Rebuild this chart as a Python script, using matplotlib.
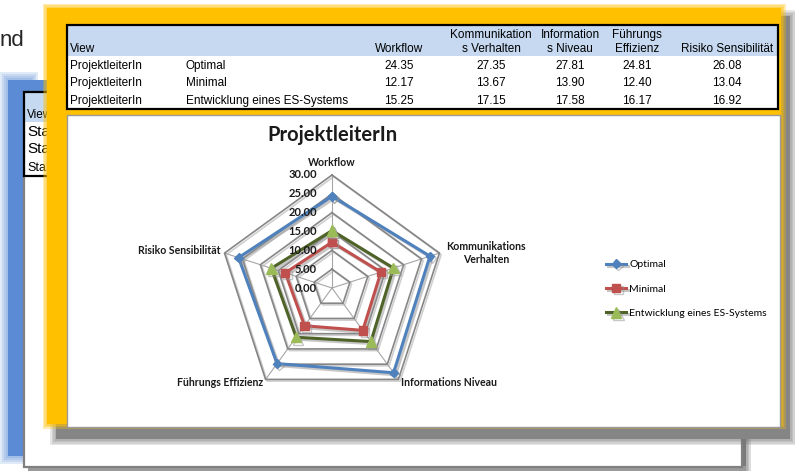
import numpy as np
import matplotlib
matplotlib.use("Agg")
import matplotlib.pyplot as plt
from matplotlib.patches import Rectangle
from matplotlib import patheffects as pe

# data
categories = ["Workflow", "Kommunikations\nVerhalten", "Informations Niveau",
              "Führungs Effizienz", "Risiko Sensibilität"]
table_headers = ["Workflow", "Kommunikation\ns Verhalten", "Information\ns Niveau",
                 "Führungs\nEffizienz", "Risiko Sensibilität"]
series_names = ["Optimal", "Minimal", "Entwicklung eines ES-Systems"]
optimal = [24.35, 27.35, 27.81, 24.81, 26.08]
minimal = [12.17, 13.67, 13.90, 12.40, 13.04]
entwicklung = [15.25, 17.15, 17.58, 16.17, 16.92]
levels = [0, 5, 10, 15, 20, 25, 30]

W, H = 795, 471
fig = plt.figure(figsize=(W / 100, H / 100), dpi=100)
fig.patch.set_facecolor("white")

# background "screenshot" layer in pixel coordinates
bg = fig.add_axes([0, 0, 1, 1])
bg.set_xlim(0, W)
bg.set_ylim(H, 0)
bg.axis("off")


def rect(x0, y0, x1, y1, **kw):
    kw.setdefault("zorder", 1)
    bg.add_patch(Rectangle((x0, y0), x1 - x0, y1 - y0, **kw))


def soft(x0, y0, x1, y1, color, n=4, step=1.5, alpha=0.18):
    for i in range(n, 0, -1):
        d = i * step
        rect(x0 - d, y0 - d, x1 + d, y1 + d, color=color, alpha=alpha, lw=0)


arial = ["Liberation Sans", "DejaVu Sans"]
calibri = ["Lato", "DejaVu Sans"]

bg.text(0, 41, "nd", fontsize=16, color="#262626", va="center", ha="left",
        family=arial, zorder=1)

# back slide
soft(8, 80, 30, 456, "#5b8bd4", n=4, step=2)
rect(8, 80, 30, 456, color="#5b8bd4", lw=0)
rect(8, 80, 60, 92, color="#5b8bd4", lw=0)
soft(742, 96, 746, 469, "#777777", n=3, step=1.5, alpha=0.25)
rect(741, 96, 746, 469, color="#7a7a7a", lw=0)
rect(28, 466, 746, 471, color="#9a9a9a", lw=0)
rect(24, 92, 742, 467, fc="white", ec="#808080", lw=1.6)
rect(25, 93, 200, 122, color="#c5d9f1", lw=0)
rect(24, 92, 200, 176, fill=False, ec="black", lw=1.6)
bg.text(27, 115, "View", fontsize=8.5, va="center", family=arial, zorder=1)
for yy, fs in [(132, 11), (149, 11), (168, 9)]:
    bg.text(27, yy, "Stakeholder", fontsize=fs, va="center", family=arial, zorder=1)
bg.text(140, 426, "Führungs Effizienz", fontsize=7.5, color="#c4c4c4",
        fontweight="bold", va="center", family=calibri, zorder=1)
bg.text(350, 426, "Informations Niveau", fontsize=7.5, color="#c4c4c4",
        fontweight="bold", va="center", family=calibri, zorder=1)

# front slide
soft(56, 16, 790, 439, "#777777", n=4, step=1.5, alpha=0.18)
rect(56, 16, 790, 439, color="#858585", lw=0)
soft(47, 8, 781, 424, "#ffc000", n=3, step=1.5, alpha=0.3)
rect(47, 8, 781, 424, color="#ffc000", lw=0)
rect(67, 115, 780, 427, fc="white", ec="#9a9a9a", lw=1)
rect(67, 25, 778, 56, color="#c6d9f1", lw=0)
rect(67, 56, 778, 109, color="white", lw=0)
rect(67, 25, 778, 109, fill=False, ec="black", lw=1.6)

# table text
col_x = [399, 491, 570, 637, 727]
row_y = [66, 83, 101]
fs_tab = 8.5
bg.text(70, 49, "View", fontsize=fs_tab, va="center", family=arial, zorder=3)
for x, h in zip(col_x, table_headers):
    bg.text(x, 55, h, fontsize=fs_tab, ha="center", va="bottom", family=arial,
            linespacing=1.2, zorder=3)
for y, name, vals in zip(row_y, series_names, [optimal, minimal, entwicklung]):
    bg.text(70, y, "ProjektleiterIn", fontsize=fs_tab, va="center", family=arial, zorder=3)
    bg.text(186, y, name, fontsize=fs_tab, va="center", family=arial, zorder=3)
    for x, v in zip(col_x, vals):
        bg.text(x, y, f"{v:.2f}", fontsize=fs_tab, ha="center", va="center",
                family=arial, zorder=3)

# radar chart
cx, cy, R = 332, 288, 113
ax = fig.add_axes([(cx - R) / W, (H - cy - R) / H, 2 * R / W, 2 * R / H],
                  projection="polar")
ax.set_theta_offset(np.pi / 2)
ax.set_theta_direction(-1)
ax.set_ylim(0, 30)
ax.axis("off")

theta = np.linspace(0, 2 * np.pi, len(categories), endpoint=False)
closed = np.append(theta, theta[0])

grid_fx = [pe.SimpleLineShadow(offset=(1.2, -1.2), shadow_color="#b0b0b0", alpha=0.6),
           pe.Normal()]
for t in theta:
    ax.plot([t, t], [0, 30], color="#a6a6a6", lw=0.8, clip_on=False, zorder=1)
for lv in levels[1:]:
    ax.plot(closed, [lv] * len(closed), color="#868686", lw=1.2,
            path_effects=grid_fx, clip_on=False, zorder=1)

line_fx = [pe.SimpleLineShadow(offset=(1.5, -1.5), shadow_color="#909090", alpha=0.5),
           pe.Normal()]
styles = [
    dict(color="#4f81bd", marker="D", ms=4.5, mfc="#4f81bd", mec="#4f81bd"),
    dict(color="#c0504d", marker="s", ms=6, mfc="#c0504d", mec="#c0504d"),
    dict(color="#4f6228", marker="^", ms=7.5, mfc="#9bbb59", mec="#9bbb59"),
]
for name, vals, st in zip(series_names, [optimal, minimal, entwicklung], styles):
    ax.plot(closed, vals + vals[:1], lw=2.2, label=name, path_effects=line_fx,
            clip_on=False, zorder=3, **st)

for lv in levels:
    ax.annotate(f"{lv:.2f}", xy=(0, lv), xytext=(-11, 0), textcoords="offset points",
                ha="right", va="center", fontsize=8, fontweight="bold",
                family=calibri, color="#1a1a1a")

offsets = [((0, 5), "center", "bottom"), ((5, 0), "left", "center"),
           ((2, -2), "left", "center"), ((-2, -2), "right", "center"),
           ((-3, 2), "right", "center")]
for t, lab, (off, ha, va) in zip(theta, categories, offsets):
    ax.annotate(lab, xy=(t, 30), xytext=off, textcoords="offset points", ha=ha, va=va,
                fontsize=7.6, fontweight="bold", family=calibri, multialignment="center",
                color="#1a1a1a")

fig.text(cx / W, 1 - 135 / H, "ProjektleiterIn", ha="center", va="center",
         fontsize=14.5, fontweight="bold", family=calibri, color="#1a1a1a")

ax.legend(loc="center left", bbox_to_anchor=(597 / W, 1 - 289 / H),
          bbox_transform=fig.transFigure, frameon=False, prop={"family": calibri, "size": 7.5},
          handlelength=1.9, handletextpad=0.3, labelspacing=1.45)

fig.savefig("out.png", dpi=100)
